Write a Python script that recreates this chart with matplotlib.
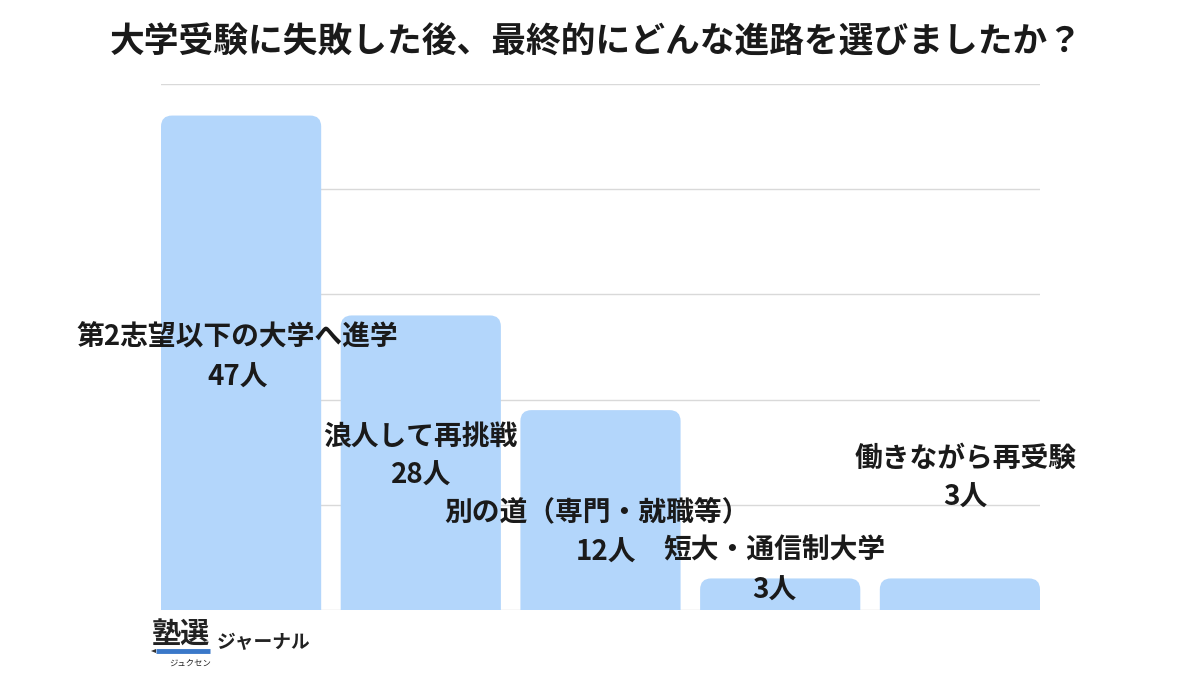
import matplotlib
matplotlib.use('Agg')
import matplotlib.pyplot as plt
from matplotlib.patches import FancyBboxPatch, Polygon
from matplotlib.lines import Line2D

plt.rcParams['font.family'] = ['Noto Sans CJK JP', 'DejaVu Sans']

title = "大学受験に失敗した後、最終的にどんな進路を選びましたか？"
categories = ["第2志望以下の大学へ進学", "浪人して再挑戦", "別の道（専門・就職等）",
              "短大・通信制大学", "働きながら再受験"]
bar_values = [47, 28, 19, 3, 3]
count_labels = ["47人", "28人", "12人", "3人", "3人"]
y_ticks = [0, 10, 20, 30, 40, 50]

# label layout (data units)
name_y = [25.9, 16.4, 9.3, 5.7, 14.4]
count_y = [22.1, 12.8, 5.4, 1.8, 10.7]
name_dx = [-0.02, 0.0, -0.02, -0.03, 0.03]
count_dx = [-0.02, 0.0, 0.03, -0.03, 0.03]

W, H = 1200, 675
fig = plt.figure(figsize=(12, 6.75), dpi=100)
ax = fig.add_axes([161 / W, 65 / H, 879 / W, 526 / H])
pitch_px = 179.5
w = 160 / pitch_px
n = len(categories)
ax.set_xlim(-w / 2, n - 1 + w / 2)
ax.set_ylim(y_ticks[0], y_ticks[-1])
ax.set_yticks(y_ticks)
ax.yaxis.grid(True, color='#d9d9d9', lw=1)
ax.set_axisbelow(True)
ax.tick_params(left=False, bottom=False, labelleft=False, labelbottom=False)
for s in ax.spines.values():
    s.set_visible(False)

x_pu = 879 / (n - 1 + w)          # px per x unit
y_pu = 526 / (y_ticks[-1] - y_ticks[0])  # px per y unit
r_px = 11
rx = r_px / x_pu
aspect = x_pu / y_pu
ext = 2 * r_px / y_pu

for i, v in enumerate(bar_values):
    p = FancyBboxPatch((i - w / 2, -ext), w, v + ext,
                       boxstyle=f"round,pad=0,rounding_size={rx}",
                       mutation_aspect=aspect, facecolor='#b3d6fb',
                       edgecolor='none', zorder=2)
    ax.add_patch(p)

for i in range(n):
    ax.text(i + name_dx[i], name_y[i], categories[i], ha='center', va='center',
            fontsize=20, fontweight='bold', color='#1a1a1a', zorder=5)
    ax.text(i + count_dx[i], count_y[i], count_labels[i], ha='center', va='center',
            fontsize=20, fontweight='bold', color='#1a1a1a', zorder=5)

fig.text(0.497, 1 - 42 / H, title, ha='center', va='center', fontsize=25,
         fontweight='bold', color='#1a1a1a')

# logo
fig.text(152 / W, 1 - 635 / H, "塾選", ha='left', va='center', fontsize=21,
         fontweight='bold', color='#222222')
fig.add_artist(Line2D([156 / W, 210 / W], [1 - 651 / H, 1 - 651 / H],
                      transform=fig.transFigure, color='#3a78c9', lw=3.5,
                      solid_capstyle='butt'))
fig.add_artist(Polygon([[151 / W, 1 - 651 / H], [156 / W, 1 - 649 / H],
                        [156 / W, 1 - 653 / H]], closed=True,
                       transform=fig.transFigure, facecolor='#333333',
                       edgecolor='none'))
fig.text(190 / W, 1 - 663 / H, "ジュクセン", ha='center', va='center', fontsize=6,
         color='#222222')
fig.text(217 / W, 1 - 643 / H, "ジャーナル", ha='left', va='center', fontsize=13.5,
         fontweight='bold', color='#222222')

fig.savefig('out.png', dpi=100)
